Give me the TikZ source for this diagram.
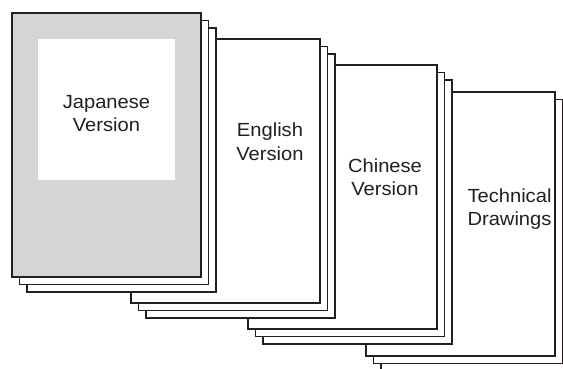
\documentclass[tikz,border=0pt]{standalone}
\usepackage{fontspec}
\setmainfont{Liberation Sans}[FakeStretch=1.06]
\usepackage{xcolor}
\usepackage{tikz}
\definecolor{inkdark}{RGB}{35,31,32}
\definecolor{covergray}{RGB}{212,213,215}

\begin{document}
\begin{tikzpicture}[
    x=1pt, y=-1pt,
    sheet/.style={
        rectangle,
        draw=inkdark,
        fill=white,
        line width=1.3pt,
        minimum width=189pt,
        minimum height=264pt,
        inner sep=0pt,
        outer sep=0pt,
        anchor=north west
    },
    cover/.style={
        sheet,
        line width=2.3pt
    },
    doctext/.style={
        align=center,
        inner sep=0pt,
        text=inkdark,
        font=\fontsize{19}{23.5}\selectfont
    }
]
\useasboundingbox (0,0) rectangle (563,369);
\clip (0,0) rectangle (563,369);

% Technical drawings stack
\node[sheet] (td2) at (381,107) {};
\node[sheet] (td1) at (373.5,99.5) {};
\node[cover] (td) at (366,92) {};
\node[doctext] (tdtext) at (509.5,209) {Technical\\Drawings};

% Chinese stack
\node[sheet] (cn2) at (263,80) {};
\node[sheet] (cn1) at (255.5,72.5) {};
\node[cover] (cn) at (248,65) {};
\node[doctext] (cntext) at (385,177) {Chinese\\Version};

% English stack
\node[sheet] (en2) at (146,54) {};
\node[sheet] (en1) at (138.5,46.5) {};
\node[cover] (en) at (131,39) {};
\node[doctext] (entext) at (270,141.5) {English\\Version};

% Japanese stack
\node[sheet] (jp2) at (27,28) {};
\node[sheet] (jp1) at (19.5,20.5) {};
\node[cover, fill=covergray] (jp) at (12,13) {};
\node[fill=white, minimum width=137pt, minimum height=141pt,
      inner sep=0pt, anchor=north west] (jpwin) at (38,39) {};
\node[doctext] (jptext) at (106.5,113.7) {Japanese\\Version};

\end{tikzpicture}
\end{document}
